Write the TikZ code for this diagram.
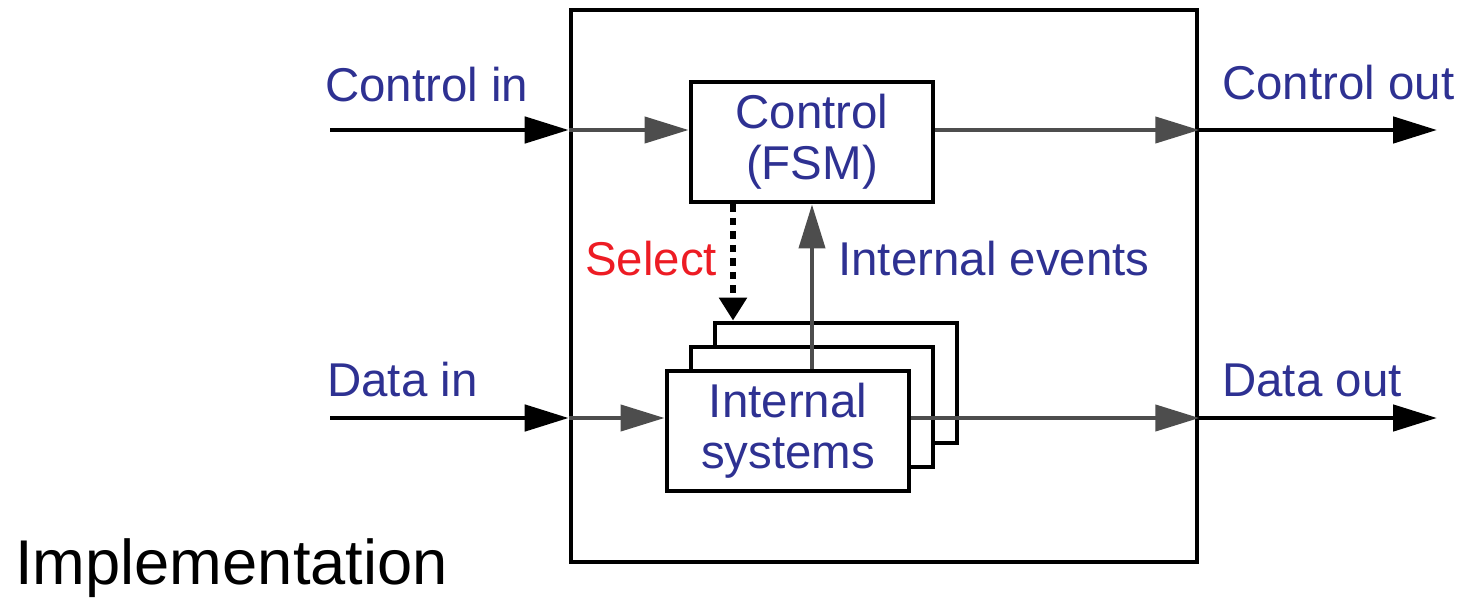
\documentclass[tikz,border=0pt]{standalone}
\usepackage{fontspec}
\setmainfont{Liberation Sans}
\definecolor{labelblue}{RGB}{46, 49, 146}
\definecolor{selectred}{RGB}{237, 28, 36}
\definecolor{wiregray}{RGB}{77, 77, 77}
\usetikzlibrary{arrows.meta, positioning, calc}

\tikzset{
    block/.style={draw, line width=2.8pt, fill=white, minimum width=4.84cm, minimum height=2.4cm,
        align=center, text=labelblue, font=\fontsize{27}{29}\selectfont},
    extwire/.style={line width=2.7pt, -{Triangle[length=0.88cm, width=0.52cm]}},
    intwire/.style={line width=2.4pt, wiregray, -{Triangle[length=0.88cm, width=0.52cm]}},
    selwire/.style={line width=3.6pt, dash pattern=on 0.15cm off 0.12cm, -{Triangle[length=0.46cm, width=0.54cm]}},
    sig/.style={anchor=base west, text=labelblue, font=\fontsize{27}{29}\selectfont, inner sep=0pt}
}

\begin{document}
\begin{tikzpicture}[x=0.02cm, y=-0.02cm]
        \useasboundingbox (0,0) rectangle (1461,598);

        % Outer box
        \node[draw, line width=2.7pt, minimum width=12.52cm, minimum height=11.04cm] (outer) at (884,286) {};

        % Control block
        \node[block] (ctrl) at (812,142) {Control\\(FSM)};

        % Internal systems (stacked copies behind)
        \foreach \k/\d in {3/48, 2/24} {
            \node[block] (sys\k) at (788+\d,431-\d) {};
        }
        \node[block] (sys) at (788,431) {Internal\\systems};

        % Wire rows
        \coordinate (cin) at (330,130);
        \coordinate (cout) at (1437,130);
        \coordinate (din) at (330,418);
        \coordinate (dout) at (1437,418);
        \coordinate (selx) at (733,0);

        % Control path
        \draw[extwire] (cin) -- (cin -| outer.west);
        \draw[intwire] (cin -| outer.west) -- (ctrl.west |- cin);
        \draw[intwire] (ctrl.east |- cin) -- (cin -| outer.east);
        \draw[extwire] (cin -| outer.east) -- (cout);

        % Data path
        \draw[extwire] (din) -- (din -| outer.west);
        \draw[intwire] (din -| outer.west) -- (sys.west |- din);
        \draw[intwire] (sys.east |- din) -- (din -| outer.east);
        \draw[extwire] (din -| outer.east) -- (dout);

        % Select and internal events
        \draw[selwire] (ctrl.south -| selx) -- (sys3.north -| selx);
        \draw[intwire] (sys.north -| ctrl.south) -- (ctrl.south);

        % Labels
        \node[sig] (lcin) at (325,102) {Control in};
        \node[sig] (lcout) at (1222,100) {Control out};
        \node[sig] (ldin) at (327,396) {Data in};
        \node[sig] (ldout) at (1222,396) {Data out};
        \node[sig, text=selectred] (lsel) at (585,275) {Select};
        \node[sig] (lev) at (838,275) {Internal events};
        \node[anchor=base west, inner sep=0pt, font=\fontsize{36}{40}\selectfont] (title) at (15,584) {Implementation};
    \end{tikzpicture}
\end{document}
